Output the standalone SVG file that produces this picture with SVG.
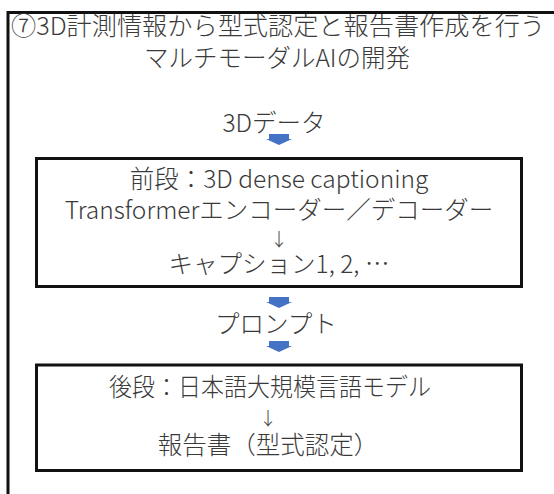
<svg xmlns="http://www.w3.org/2000/svg" width="554" height="494" viewBox="0 0 554 494">
<style>
text{font-family:"Noto Sans CJK JP","Noto Sans",sans-serif;font-size:24.5px;font-weight:300;fill:#3a3a3a;text-anchor:middle}
.dn{font-size:18px}
.box{fill:#fff;stroke:#111;stroke-width:3}
.arr{fill:#4472C4}
</style>
<defs>
<path id="ar" d="M-10,0 H10 V5 H13 L0,11 L-13,5 H-10 Z"/>
</defs>
<rect width="554" height="494" fill="#fff"/>
<g id="frame">
<path d="M8,494 V12.5 H556" fill="none" stroke="#111" stroke-width="3"/>
<text x="278" y="35" textLength="534" lengthAdjust="spacingAndGlyphs">⑦3D計測情報から型式認定と報告書作成を行う</text>
<text x="277" y="67">マルチモーダルAIの開発</text>
</g>
<g id="input"><text x="274" y="132">3Dデータ</text></g>
<g id="stage1">
<rect class="box" x="36.5" y="158.5" width="485" height="128"/>
<text x="279" y="188">前段：3D dense captioning</text>
<text x="279" y="219">Transformerエンコーダー／デコーダー</text>
<text class="dn" x="279" y="246">↓</text>
<text x="279" y="273">キャプション1, 2, …</text>
</g>
<g id="prompt"><text x="276" y="333">プロンプト</text></g>
<g id="stage2">
<rect class="box" x="36.5" y="365" width="485" height="105.5"/>
<text x="270" y="396" textLength="322" lengthAdjust="spacingAndGlyphs">後段：日本語大規模言語モデル</text>
<text class="dn" x="268" y="425">↓</text>
<text x="268" y="454">報告書（型式認定）</text>
</g>
<g id="connectors">
<use href="#ar" class="arr" x="279" y="134"/>
<use href="#ar" class="arr" x="279" y="297"/>
<use href="#ar" class="arr" x="279" y="341"/>
</g>
</svg>
